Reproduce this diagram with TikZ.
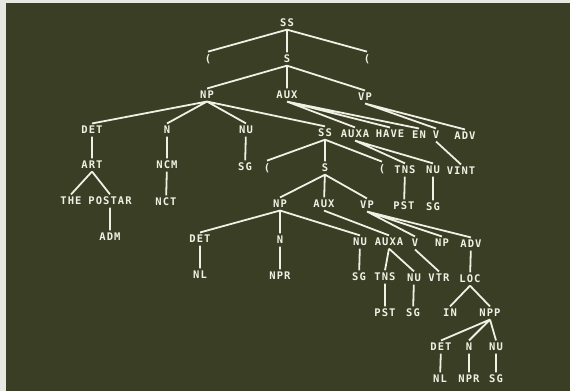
\documentclass[tikz,border=0pt]{standalone}
\usepackage{fontspec}
\usepackage{xcolor}
\usepackage{tikz}
\newfontfamily\termfont{DejaVu Sans Mono Bold}[LetterSpace=10]
\definecolor{screen}{RGB}{58,62,37}
\definecolor{glow}{RGB}{240,240,228}
\definecolor{paper}{RGB}{232,232,226}

\begin{document}
\begin{tikzpicture}[x=1pt,y=-1pt,
   cat/.style={text=glow,inner sep=2.5pt,font=\termfont\fontsize{10.5}{11}\selectfont},
   branch/.style={draw=glow,line width=1.8pt}]
 % screen
 \useasboundingbox (0,0) rectangle (570,391);
 \fill[paper] (0,0) rectangle (570,391);
 \fill[screen] (6,3) rectangle (570,391);
 % top levels
 \node[cat] (ss)  at (287,23) {SS};
 \node[cat] (lpa) at (208,59) {(};
 \node[cat] (sa)  at (287,59) {S};
 \node[cat] (rpa) at (367,59) {(};
 \node[cat] (npa)  at (207,95) {NP};
 \node[cat] (auxa) at (287,95) {AUX};
 \node[cat] (vpa)  at (365,97) {VP};
 % subject noun phrase
 \node[cat] (deta)   at (92,130)  {DET};
 \node[cat] (na)     at (167,130) {N};
 \node[cat] (nua)    at (246,130) {NU};
 \node[cat] (art)    at (92,165)  {ART};
 \node[cat] (ncm)    at (167,165) {NCM};
 \node[cat] (sga)    at (245,167) {SG};
 \node[cat] (the)    at (71,201)  {THE};
 \node[cat] (postar) at (110,201) {POSTAR};
 \node[cat] (nct)    at (166,202) {NCT};
 \node[cat] (adm)    at (110,237) {ADM};
 % auxiliary and main verb
 \node[cat] (auxaa) at (355,134) {AUXA};
 \node[cat] (have)  at (390,134) {HAVE};
 \node[cat] (en)    at (419,135) {EN};
 \node[cat] (va)    at (436,135) {V};
 \node[cat] (adva)  at (465,136) {ADV};
 \node[cat] (tnsa)  at (405,170) {TNS};
 \node[cat] (nub)   at (433,170) {NU};
 \node[cat] (vint)  at (461,171) {VINT};
 \node[cat] (psta)  at (404,206) {PST};
 \node[cat] (sgb)   at (433,207) {SG};
 % embedded sentence
 \node[cat] (ssb)  at (325,133) {SS};
 \node[cat] (lpb)  at (267,168) {(};
 \node[cat] (sb)   at (325,168) {S};
 \node[cat] (rpb)  at (382,169) {(};
 \node[cat] (npb)  at (280,204) {NP};
 \node[cat] (auxb) at (324,204) {AUX};
 \node[cat] (vpb)  at (367,205) {VP};
 \node[cat] (detb)  at (200,239) {DET};
 \node[cat] (nb)    at (280,240) {N};
 \node[cat] (nuc)   at (360,242) {NU};
 \node[cat] (auxab) at (389,242) {AUXA};
 \node[cat] (vb)    at (415,243) {V};
 \node[cat] (npc)   at (442,243) {NP};
 \node[cat] (advb)  at (471,244) {ADV};
 \node[cat] (nla)  at (200,275) {NL};
 \node[cat] (npra) at (280,276) {NPR};
 \node[cat] (sgc)  at (359,277) {SG};
 \node[cat] (tnsb) at (385,277) {TNS};
 \node[cat] (nud)  at (414,278) {NU};
 \node[cat] (vtr)  at (439,278) {VTR};
 \node[cat] (loc)  at (470,279) {LOC};
 \node[cat] (pstb) at (385,313) {PST};
 \node[cat] (sgd)  at (413,313) {SG};
 \node[cat] (inp)  at (450,313) {IN};
 \node[cat] (npp)  at (490,313) {NPP};
 \node[cat] (detc) at (441,347) {DET};
 \node[cat] (nc)   at (469,347) {N};
 \node[cat] (nue)  at (496,347) {NU};
 \node[cat] (nlb)  at (440,379) {NL};
 \node[cat] (nprb) at (469,379) {NPR};
 \node[cat] (sge)  at (496,379) {SG};
 % branches, top part
 \draw[branch] (ss.south) -- (lpa.north) (ss.south) -- (sa.north) (ss.south) -- (rpa.north);
 \draw[branch] (sa.south) -- (npa.north) (sa.south) -- (auxa.north) (sa.south) -- (vpa.north);
 \draw[branch] (npa.south) -- (deta.north) (npa.south) -- (na.north) (npa.south) -- (nua.north) (npa.south) -- (ssb.north);
 \draw[branch] (auxa.south) -- (auxaa.north) (auxa.south) -- (have.north) (auxa.south) -- (en.north);
 \draw[branch] (vpa.south) -- (va.north) (vpa.south) -- (adva.north);
 \draw[branch] (deta) -- (art) (na) -- (ncm) (ncm) -- (nct) (nua) -- (sga);
 \draw[branch] (art.south) -- (the.north) (art.south) -- (postar.north) (postar) -- (adm);
 \draw[branch] (auxaa.south) -- (tnsa.north) (auxaa.south) -- (nub.north) (va.south) -- (vint.north);
 \draw[branch] (tnsa) -- (psta) (nub) -- (sgb);
 % branches, embedded sentence
 \draw[branch] (ssb.south) -- (lpb.north) (ssb) -- (sb) (ssb.south) -- (rpb.north);
 \draw[branch] (sb.south) -- (npb.north) (sb) -- (auxb) (sb.south) -- (vpb.north);
 \draw[branch] (npb.south) -- (detb.north) (npb) -- (nb) (npb.south) -- (nuc.north);
 \draw[branch] (auxb.south) -- (auxab.north);
 \draw[branch] (vpb.south) -- (vb.north) (vpb.south) -- (npc.north) (vpb.south) -- (advb.north);
 \draw[branch] (detb) -- (nla) (nb) -- (npra) (nuc) -- (sgc) (advb) -- (loc);
 \draw[branch] (auxab.south) -- (tnsb.north) (auxab.south) -- (nud.north) (vb.south) -- (vtr.north);
 \draw[branch] (tnsb) -- (pstb) (nud) -- (sgd);
 \draw[branch] (loc.south) -- (inp.north) (loc.south) -- (npp.north);
 \draw[branch] (npp.south) -- (detc.north) (npp.south) -- (nc.north) (npp.south) -- (nue.north);
 \draw[branch] (detc) -- (nlb) (nc) -- (nprb) (nue) -- (sge);
\end{tikzpicture}
\end{document}
